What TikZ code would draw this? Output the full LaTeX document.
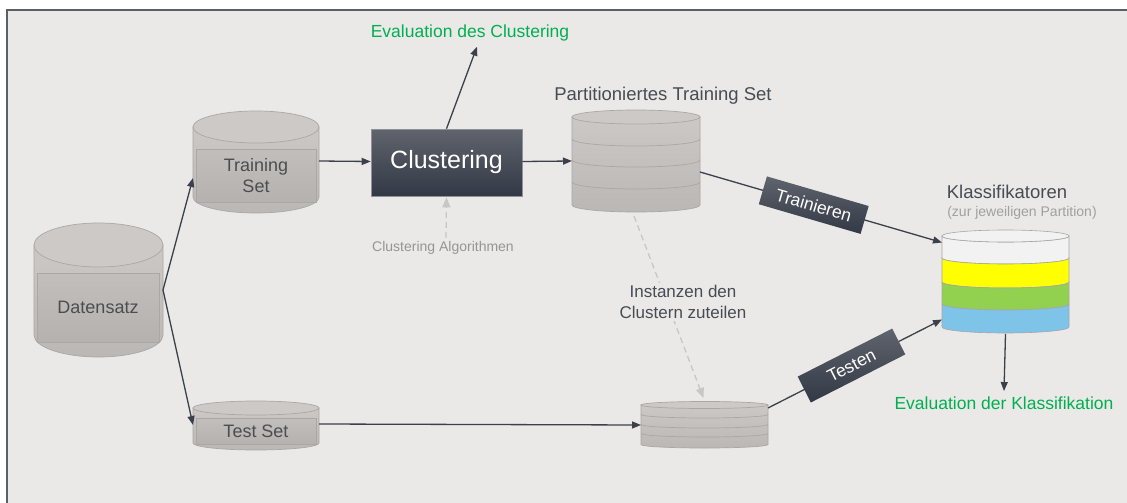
\documentclass[tikz,border=0pt]{standalone}
\usepackage{fontspec}
\setmainfont{Liberation Sans}
\usetikzlibrary{arrows.meta,calc}
\definecolor{bgc}{HTML}{EAE9E7}
\definecolor{framec}{HTML}{5A5F68}
\definecolor{linec}{HTML}{3B404A}
\definecolor{dashc}{HTML}{C9C7C5}
\definecolor{cylA}{HTML}{CCC8C6}
\definecolor{cylB}{HTML}{BBB7B5}
\definecolor{cyltopc}{HTML}{CDC9C7}
\definecolor{cyledge}{HTML}{ABA7A5}
\definecolor{txtc}{HTML}{4D4D4D}
\definecolor{headc}{HTML}{474C54}
\definecolor{greenc}{HTML}{00B050}
\definecolor{greyc}{HTML}{959595}
\definecolor{darkA}{HTML}{5F646D}
\definecolor{darkB}{HTML}{323845}
\definecolor{bandedge}{HTML}{A6A6A6}
\definecolor{whiteband}{HTML}{F2F2F2}
\definecolor{yellowband}{HTML}{FFFF00}
\definecolor{greenband}{HTML}{92D050}
\definecolor{blueband}{HTML}{7EC4E8}

% gray cylinder: centre x, top-ellipse y, bottom-ellipse y, x radius, y radius
\newcommand\DrawCyl[5]{%
  \path[cylbody] (#1-#4,#2) -- (#1-#4,#3)
    arc[start angle=180,end angle=0,x radius=#4,y radius=#5] -- (#1+#4,#2) -- cycle;
  \path[cyltop] (#1,#2) ellipse[x radius=#4,y radius=#5];
}
% visible front half of a layer boundary
\newcommand\CylLine[4]{%
  \draw[cyledge,line width=0.7pt] (#1-#3,#2)
    arc[start angle=180,end angle=0,x radius=#3,y radius=#4];
}
% coloured band between two layer boundaries
\newcommand\Band[6]{%
  \path[draw=bandedge,line width=0.6pt,fill=#6] (#1-#4,#2) -- (#1-#4,#3)
    arc[start angle=180,end angle=0,x radius=#4,y radius=#5] -- (#1+#4,#2)
    arc[start angle=0,end angle=180,x radius=#4,y radius=#5] -- cycle;
}

\begin{document}
\begin{tikzpicture}[x=1pt,y=-1pt,
  cylbody/.style={draw=cyledge,line width=0.7pt,top color=cylA,bottom color=cylB},
  cyltop/.style={draw=cyledge,line width=0.7pt,fill=cyltopc},
  innerrect/.style={draw=cyledge,line width=0.7pt,top color=cylA!95!black,bottom color=cylB!97!black},
  holder/.style={inner sep=0pt,outer sep=0pt},
  arr/.style={draw=linec,line width=1.3pt,-{Triangle[length=9pt,width=7pt]}},
  dasharr/.style={draw=dashc,line width=1.3pt,dash pattern=on 6pt off 4pt,
    -{Triangle[length=10pt,width=8pt]}},
  cyltext/.style={text=txtc,font=\fontsize{18}{21}\selectfont,align=center},
  headtext/.style={text=headc,font=\fontsize{18.5}{21}\selectfont,align=center},
  evaltext/.style={text=greenc,font=\fontsize{17.5}{21}\selectfont},
  labelbox/.style={top color=darkA,bottom color=darkB,text=white,
    font=\fontsize{17.5}{20}\selectfont,minimum width=106pt,minimum height=29pt,inner sep=0pt}
]
\useasboundingbox (0,0) rectangle (1127,503);
\fill[white] (0,0) rectangle (1127,503);
\fill[bgc] (7,11) rectangle (1127,503);
\draw[framec,line width=2pt] (6.5,503) -- (6.5,10.5) -- (1127,10.5);

% ---- Datensatz
\DrawCyl{98.5}{245}{335}{64.5}{22}
\path[innerrect] (37,273) rectangle (159,342);
\node[holder,minimum width=129pt,minimum height=134pt] (data) at (98.5,290) {};
\node[cyltext] (datat) at (98,307) {Datensatz};

% ---- Training Set
\DrawCyl{256}{127}{197}{63}{16}
\path[innerrect] (196,149) rectangle (316,202);
\node[holder,minimum width=126pt,minimum height=102pt] (train) at (256,162) {};
\node[cyltext] (traint) at (256,176) {Training\\Set};

% ---- Test Set
\DrawCyl{256}{408}{443}{63}{7}
\path[innerrect] (196,418) rectangle (316,444);
\node[holder,minimum width=126pt,minimum height=50pt] (test) at (256,424) {};
\node[cyltext] (testt) at (256,431) {Test Set};

% ---- Clustering
\node[draw=darkA!70!white,line width=0.6pt,top color=darkA,bottom color=darkB,text=white,
  font=\fontsize{25}{28}\selectfont,minimum width=151pt,minimum height=67pt,inner sep=0pt]
  (clu) at (446.5,162.5) {Clustering};
\node[text=greyc,font=\fontsize{14}{16}\selectfont] (algo) at (443,248) {Clustering Algorithmen};
\node[evaltext] (evalc) at (470,33) {Evaluation des Clustering};

% ---- partitioned training set
\DrawCyl{636}{117}{205}{64}{7}
\CylLine{636}{139}{64}{7}
\CylLine{636}{160}{64}{7}
\CylLine{636}{182}{64}{7}
\node[holder,minimum width=128pt,minimum height=104pt] (part) at (636,162) {};
\node[headtext] (partt) at (663,96) {Partitioniertes Training Set};

% ---- partitioned test set
\DrawCyl{704.5}{405}{444.5}{63.5}{3.5}
\CylLine{704.5}{414.5}{63.5}{3.5}
\CylLine{704.5}{424.5}{63.5}{3.5}
\CylLine{704.5}{433.5}{63.5}{3.5}
\node[holder,minimum width=127pt,minimum height=50pt] (stack) at (704.5,425) {};

% ---- classifiers
\Band{1005.5}{236}{258}{63.5}{6}{whiteband}
\Band{1005.5}{258}{282}{63.5}{6}{yellowband}
\Band{1005.5}{282}{304}{63.5}{6}{greenband}
\Band{1005.5}{304}{327}{63.5}{6}{blueband}
\path[draw=bandedge,line width=0.6pt,fill=whiteband] (1005.5,236) ellipse[x radius=63.5,y radius=6];
\node[holder,minimum width=127pt,minimum height=103pt] (klass) at (1005.5,281.5) {};
\node[headtext] (klasst) at (1007,192) {Klassifikatoren};
\node[text=greyc!90!white,font=\fontsize{14}{16}\selectfont] (klasss) at (1022,213) {(zur jeweiligen Partition)};
\node[evaltext] (evalk) at (1004,403) {Evaluation der Klassifikation};

% ---- connectors
\draw[arr] (data.east) -- ([yshift=-16pt]train.west);
\draw[arr] (data.east) -- ([yshift=-1pt]test.west);
\draw[arr] ([yshift=1pt]train.east) -- ([yshift=1pt]clu.west);
\draw[arr] ([yshift=1pt]clu.east) -- ([yshift=1pt]part.west);
\draw[arr] (clu.north) -- ([xshift=7pt,yshift=-2pt]evalc.south);
\draw[dasharr] ([xshift=3pt]algo.north) -- ([yshift=-1pt]clu.south);
\draw[arr] (test.east) -- (stack.west);
\draw[dasharr] ([xshift=-2pt,yshift=-2pt]part.south) -- ([xshift=-1pt,yshift=2pt]stack.north);
\node[headtext,fill=bgc,inner sep=2pt,font=\fontsize{17}{21}\selectfont] (assign) at (683,302) {Instanzen den\\Clustern zuteilen};
\draw[arr] ([yshift=-10pt]part.east) -- ([yshift=39pt]klass.west)
  node[labelbox,pos=0.47,sloped] (trainl) {Trainieren};
\draw[arr] ([yshift=17pt]stack.east) -- ([yshift=-38pt]klass.west)
  node[labelbox,pos=0.48,sloped] (testl) {Testen};
\draw[arr] ([yshift=-1pt]klass.south) -- ([yshift=2pt]evalk.north);
\end{tikzpicture}
\end{document}
